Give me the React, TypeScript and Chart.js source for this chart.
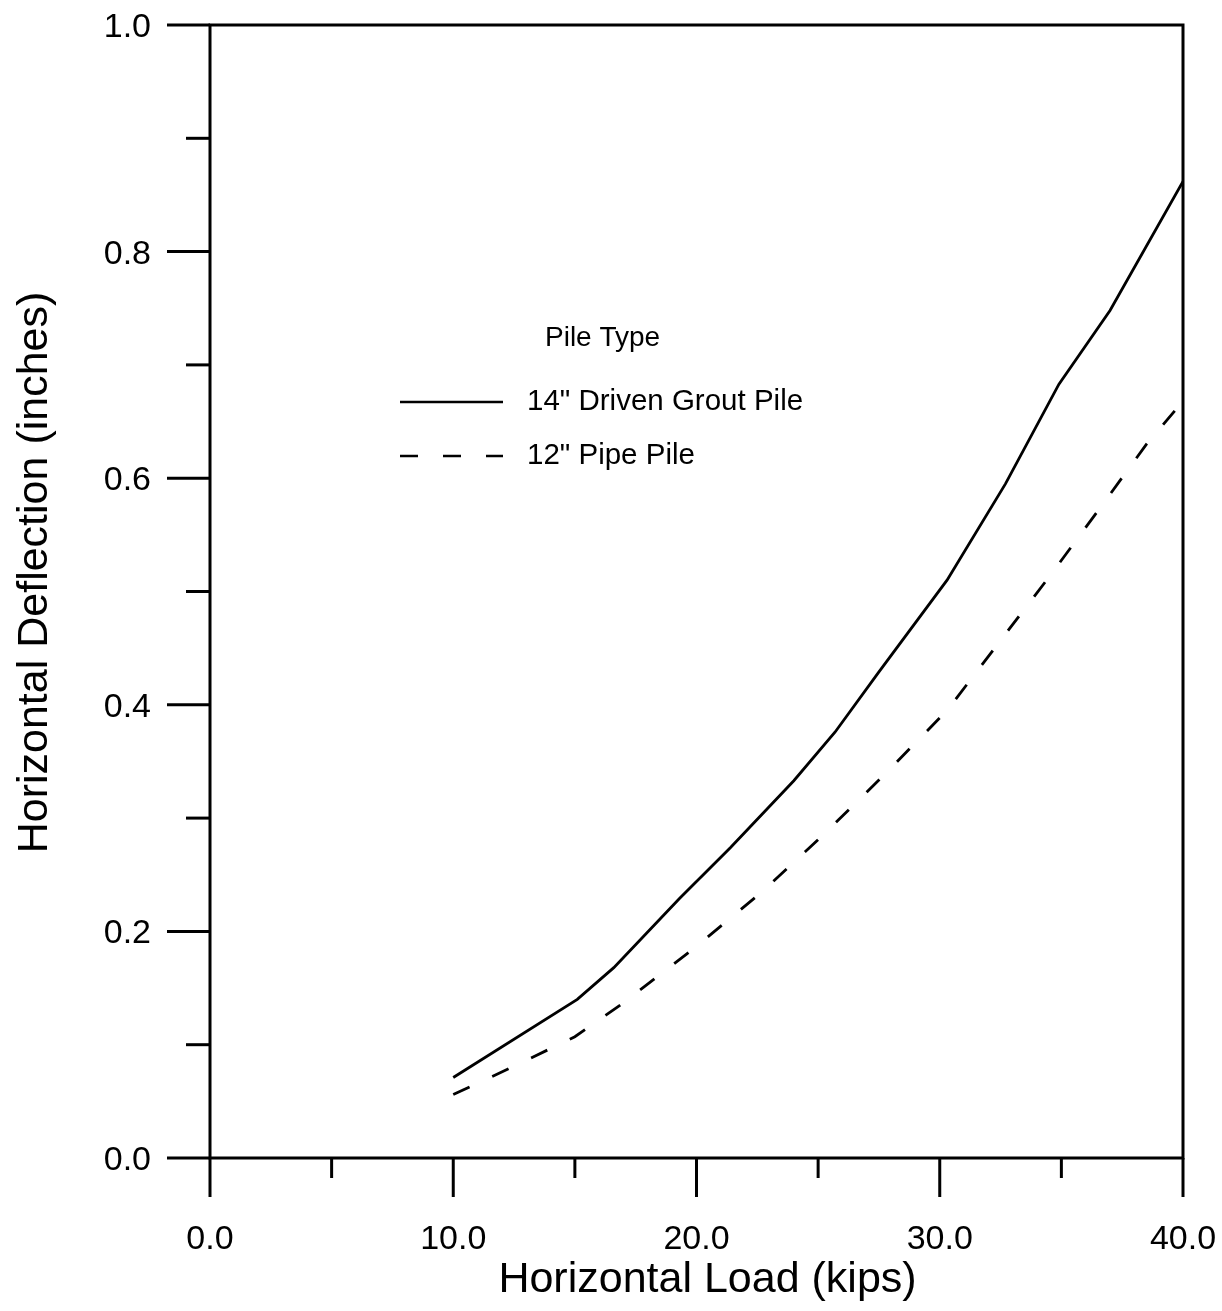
import React, { useEffect, useRef } from "react";
import { Chart, registerables } from "chart.js";

Chart.register(...registerables);

const FONT = '"Liberation Sans", Arial, Helvetica, sans-serif';

// Horizontal load (kips) vs. horizontal deflection (inches)
const groutPileLoad = [10, 15.1, 16.6, 19.3, 21.4, 24, 25.7, 27.5, 30.3, 32.7, 34.9, 37, 40];
const groutPileDeflection = [0.071, 0.14, 0.168, 0.229, 0.274, 0.333, 0.376, 0.429, 0.51, 0.595, 0.683, 0.748, 0.862];

const pipePileLoad = [10, 12.5, 15, 17, 19.9, 22.7, 25.3, 27.8, 30.3, 32.4, 34.5, 36.6, 38.5, 40];
const pipePileDeflection = [0.056, 0.081, 0.107, 0.137, 0.185, 0.235, 0.287, 0.34, 0.395, 0.454, 0.513, 0.574, 0.63, 0.668];

const seriesLabels = ['14" Driven Grout Pile', '12" Pipe Pile'];
const legendTitle = "Pile Type";

const xTickValues = [0, 5, 10, 15, 20, 25, 30, 35, 40];
const xTickLabels = ["0.0", "", "10.0", "", "20.0", "", "30.0", "", "40.0"];
const yTickValues = [0, 0.1, 0.2, 0.3, 0.4, 0.5, 0.6, 0.7, 0.8, 0.9, 1.0];
const yTickLabels = ["0.0", "", "0.2", "", "0.4", "", "0.6", "", "0.8", "", "1.0"];

const xTitle = "Horizontal Load (kips)";
const yTitle = "Horizontal Deflection (inches)";

const DASH = [18, 25];

// Draws the boxed frame, outward ticks, tick labels, axis titles and the legend
const framePlugin = {
  id: "pileFrame",
  afterDatasetsDraw(chart: any) {
    const ctx: CanvasRenderingContext2D = chart.ctx;
    const xs = chart.scales.x;
    const ys = chart.scales.y;
    const x0 = xs.getPixelForValue(0);
    const x1 = xs.getPixelForValue(40);
    const y0 = ys.getPixelForValue(0);
    const y1 = ys.getPixelForValue(1);

    ctx.save();
    ctx.strokeStyle = "#000";
    ctx.fillStyle = "#000";
    ctx.lineWidth = 3;
    ctx.lineCap = "butt";

    ctx.beginPath();
    ctx.moveTo(x0, y0);
    ctx.lineTo(x0, y1);
    ctx.lineTo(x1, y1);
    ctx.lineTo(x1, y0);
    ctx.closePath();
    ctx.stroke();

    // y ticks and labels
    ctx.font = `34px ${FONT}`;
    ctx.textAlign = "right";
    ctx.textBaseline = "alphabetic";
    yTickValues.forEach((v, i) => {
      const p = ys.getPixelForValue(v);
      const len = yTickLabels[i] ? 43 : 24;
      ctx.beginPath();
      ctx.moveTo(x0 - len, p);
      ctx.lineTo(x0, p);
      ctx.stroke();
      if (yTickLabels[i]) ctx.fillText(yTickLabels[i], x0 - 59, p + 12);
    });

    // x ticks and labels
    ctx.textAlign = "center";
    xTickValues.forEach((v, i) => {
      const p = xs.getPixelForValue(v);
      const len = xTickLabels[i] ? 39 : 20;
      ctx.beginPath();
      ctx.moveTo(p, y0);
      ctx.lineTo(p, y0 + len);
      ctx.stroke();
      if (xTickLabels[i]) ctx.fillText(xTickLabels[i], p, y0 + 91);
    });

    // axis titles
    ctx.font = `43px ${FONT}`;
    ctx.textAlign = "center";
    ctx.fillText(xTitle, (x0 + x1) / 2 + 11, y0 + 134);

    ctx.save();
    ctx.translate(x0 - 175, (y0 + y1) / 2 - 19);
    ctx.rotate(-Math.PI / 2);
    ctx.textBaseline = "middle";
    ctx.fillText(yTitle, 0, 0);
    ctx.restore();

    // legend
    const lx = x0 + 190;
    const ly = y1 + 313;
    ctx.font = `28px ${FONT}`;
    ctx.textAlign = "left";
    ctx.textBaseline = "middle";
    ctx.fillText(legendTitle, lx + 145, ly);
    ctx.font = `29.5px ${FONT}`;
    chart.data.datasets.forEach((ds: any, i: number) => {
      const rowY = ly + 64 + i * 54;
      ctx.save();
      ctx.lineWidth = 2.5;
      ctx.setLineDash(ds.borderDash || []);
      ctx.beginPath();
      ctx.moveTo(lx, rowY);
      ctx.lineTo(lx + 103, rowY);
      ctx.stroke();
      ctx.restore();
      ctx.fillText(ds.label, lx + 127, rowY);
    });

    ctx.restore();
  },
};

export default function App() {
  const canvasRef = useRef<HTMLCanvasElement | null>(null);

  useEffect(() => {
    const canvas = canvasRef.current;
    if (!canvas) return;
    const chart = new Chart(canvas, {
      type: "line",
      data: {
        datasets: [
          {
            label: seriesLabels[0],
            data: groutPileLoad.map((x, i) => ({ x, y: groutPileDeflection[i] })),
            borderColor: "#000",
            borderWidth: 2.8,
            pointRadius: 0,
            tension: 0,
            fill: false,
          },
          {
            label: seriesLabels[1],
            data: pipePileLoad.map((x, i) => ({ x, y: pipePileDeflection[i] })),
            borderColor: "#000",
            borderWidth: 2.8,
            borderDash: DASH,
            pointRadius: 0,
            tension: 0,
            fill: false,
          },
        ],
      },
      options: {
        responsive: false,
        animation: false,
        devicePixelRatio: 1,
        layout: { padding: { left: 210, right: 39, top: 25, bottom: 153 } },
        plugins: {
          legend: { display: false },
          tooltip: { enabled: false },
          title: { display: false },
        },
        scales: {
          x: { type: "linear", min: 0, max: 40, display: false },
          y: { type: "linear", min: 0, max: 1, display: false },
        },
      },
      plugins: [framePlugin],
    });
    return () => chart.destroy();
  }, []);

  return (
    <div style={{ position: "absolute", left: 0, top: 0, width: 1222, height: 1311, background: "#fff" }}>
      <canvas ref={canvasRef} width={1222} height={1311} style={{ display: "block" }} />
    </div>
  );
}
